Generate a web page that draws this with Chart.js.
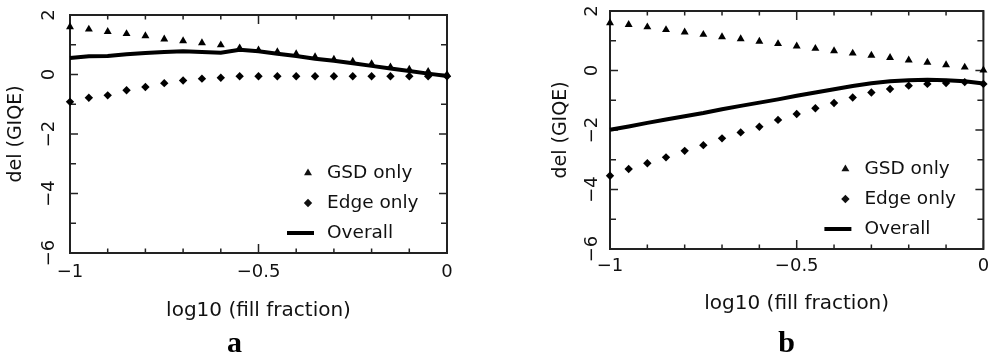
<!DOCTYPE html>
<html>
<head>
<meta charset="utf-8">
<script src="https://cdn.jsdelivr.net/npm/chart.js@4"></script>
<style>
  html, body { margin: 0; padding: 0; background: #fff; }
  #wrap { position: relative; width: 988px; height: 356px; overflow: hidden; }
  .panel { position: absolute; top: 0; width: 494px; height: 356px; }
</style>
</head>
<body>
<div id="wrap">
  <div class="panel" style="left:0"><canvas id="chartA" width="494" height="356"></canvas></div>
  <div class="panel" style="left:494px"><canvas id="chartB" width="494" height="356"></canvas></div>
</div>
<script>
// x positions: log10 (fill fraction)
const fillLog = [-1, -0.95, -0.9, -0.85, -0.8, -0.75, -0.7, -0.65, -0.6, -0.55, -0.5,
                 -0.45, -0.4, -0.35, -0.3, -0.25, -0.2, -0.15, -0.1, -0.05, 0];

// panel a
const gsdA     = [1.6, 1.52, 1.44, 1.37, 1.3, 1.19, 1.13, 1.06, 0.99, 0.89, 0.82,
                  0.76, 0.69, 0.59, 0.51, 0.44, 0.36, 0.25, 0.17, 0.1, 0];
const edgeA    = [-0.92, -0.78, -0.7, -0.53, -0.42, -0.29, -0.2, -0.14, -0.11, -0.06, -0.06,
                  -0.06, -0.06, -0.06, -0.06, -0.06, -0.06, -0.06, -0.06, -0.06, -0.06];
const overallA = [0.555, 0.61, 0.62, 0.68, 0.72, 0.76, 0.78, 0.76, 0.73, 0.83, 0.78,
                  0.7, 0.62, 0.53, 0.46, 0.38, 0.29, 0.2, 0.12, 0.03, -0.05];

// panel b
const gsdB     = [1.6, 1.54, 1.46, 1.37, 1.29, 1.21, 1.13, 1.06, 0.98, 0.9, 0.82,
                  0.74, 0.66, 0.58, 0.51, 0.43, 0.35, 0.27, 0.19, 0.11, 0.01];
const edgeB    = [-3.54, -3.31, -3.12, -2.92, -2.7, -2.51, -2.28, -2.08, -1.89, -1.66, -1.46,
                  -1.27, -1.09, -0.91, -0.74, -0.62, -0.51, -0.45, -0.42, -0.39, -0.45];
const overallB = [-1.99, -1.88, -1.76, -1.65, -1.54, -1.43, -1.3, -1.19, -1.08, -0.97, -0.85,
                  -0.74, -0.63, -0.52, -0.43, -0.36, -0.33, -0.31, -0.33, -0.36, -0.44];

// axes
const xMajor = [-1, -0.5, 0];
const xMajorLabels = ['\u22121', '\u22120.5', '0'];
const xTickMarks = [-1, -0.9, -0.8, -0.7, -0.6, -0.5, -0.4, -0.3, -0.2, -0.1, 0];
const yMajor = [-6, -4, -2, 0, 2];
const yMajorLabels = ['\u22126', '\u22124', '\u22122', '0', '2'];
const yTickMarks = [-6, -5, -4, -3, -2, -1, 0, 1, 2];
const seriesNames = ['GSD only', 'Edge only', 'Overall'];

const FONT = 'DejaVu Sans';
const INK = '#111';

function pts(ys) {
  return fillLog.map((x, i) => ({ x: x, y: ys[i] }));
}

// frame, inward ticks, rotated y labels, legend, panel letter
const framePlugin = {
  id: 'frame',
  beforeDatasetsDraw(chart) {
    const { ctx, chartArea: a, scales: { x, y } } = chart;
    ctx.save();
    ctx.strokeStyle = '#222';
    ctx.lineWidth = 2;
    ctx.strokeRect(a.left, a.top, a.right - a.left, a.bottom - a.top);
    ctx.lineWidth = 1.5;
    ctx.beginPath();
    xTickMarks.forEach(v => {
      const px = x.getPixelForValue(v);
      const len = xMajor.some(m => Math.abs(m - v) < 1e-9) ? 9 : 4.5;
      ctx.moveTo(px, a.bottom); ctx.lineTo(px, a.bottom - len);
      ctx.moveTo(px, a.top); ctx.lineTo(px, a.top + len);
    });
    yTickMarks.forEach(v => {
      const py = y.getPixelForValue(v);
      const len = yMajor.includes(v) ? 8 : 6;
      ctx.moveTo(a.left, py); ctx.lineTo(a.left + len, py);
      ctx.moveTo(a.right, py); ctx.lineTo(a.right - len, py);
    });
    ctx.stroke();
    ctx.restore();
  },
  afterDraw(chart, args, opts) {
    const { ctx, chartArea: a, scales: { y } } = chart;
    ctx.save();
    ctx.fillStyle = INK;
    // y tick labels, rotated
    ctx.font = '18px "' + FONT + '"';
    ctx.textAlign = 'center';
    ctx.textBaseline = 'middle';
    yMajor.forEach((v, i) => {
      ctx.save();
      ctx.translate(a.left - opts.yLabelGap, y.getPixelForValue(v));
      ctx.rotate(-Math.PI / 2);
      ctx.fillText(yMajorLabels[i], 0, 0);
      ctx.restore();
    });
    // legend
    const mx = a.right - opts.legendRight;
    const rows = [a.bottom - 80, a.bottom - 50, a.bottom - 20];
    ctx.font = '18.5px "' + FONT + '"';
    ctx.textAlign = 'left';
    rows.forEach((ry, i) => {
      if (i === 0) {
        const r = 4.6;
        ctx.beginPath();
        ctx.moveTo(mx, ry - r);
        ctx.lineTo(mx + r * Math.sin(2 * Math.PI / 3), ry + r / 2);
        ctx.lineTo(mx - r * Math.sin(2 * Math.PI / 3), ry + r / 2);
        ctx.closePath();
        ctx.fill();
      } else if (i === 1) {
        const r = 4.2;
        ctx.beginPath();
        ctx.moveTo(mx, ry - r); ctx.lineTo(mx + r, ry);
        ctx.lineTo(mx, ry + r); ctx.lineTo(mx - r, ry);
        ctx.closePath();
        ctx.fill();
      } else {
        ctx.strokeStyle = '#000';
        ctx.lineWidth = 4;
        ctx.beginPath();
        ctx.moveTo(mx - 21, ry); ctx.lineTo(mx + 6, ry);
        ctx.stroke();
      }
      ctx.fillText(seriesNames[i], mx + 19, ry);
    });
    // panel letter
    ctx.font = 'bold 30px "Liberation Serif"';
    ctx.textAlign = 'center';
    ctx.textBaseline = 'alphabetic';
    ctx.fillStyle = '#000';
    ctx.fillText(opts.letter, opts.letterX, 352);
    ctx.restore();
  }
};

function makePanel(p, gsd, edge, overall) {
  return new Chart(document.getElementById(p.id), {
    type: 'scatter',
    data: {
      datasets: [
        { label: seriesNames[0], data: pts(gsd), pointStyle: 'triangle', pointRadius: 4.6,
          backgroundColor: '#000', borderColor: '#000', borderWidth: 0, showLine: false, clip: false },
        { label: seriesNames[1], data: pts(edge), pointStyle: 'rectRot', pointRadius: 4.2,
          backgroundColor: '#000', borderColor: '#000', borderWidth: 0, showLine: false, clip: false },
        { label: seriesNames[2], data: pts(overall), showLine: true, pointRadius: 0,
          borderColor: '#000', borderWidth: 4, tension: 0, clip: false }
      ]
    },
    options: {
      responsive: false,
      animation: false,
      events: [],
      layout: { padding: { left: p.padLeft, right: p.padRight, top: p.top, bottom: p.padBottom } },
      plugins: {
        legend: { display: false },
        tooltip: { enabled: false },
        frame: { yLabelGap: p.yLabelGap, legendRight: p.legendRight, letter: p.letter, letterX: p.letterX }
      },
      scales: {
        x: {
          type: 'linear', min: -1, max: 0,
          afterBuildTicks: s => { s.ticks = xMajor.map(v => ({ value: v })); },
          afterFit: s => { s.height = p.xHeight; s.paddingLeft = 0; s.paddingRight = 0; },
          grid: { display: false, drawTicks: false },
          border: { display: false },
          ticks: {
            autoSkip: false, maxRotation: 0, padding: p.xTickPad, color: INK,
            font: { family: FONT, size: 18 },
            callback: (v, i) => xMajorLabels[i]
          },
          title: { display: true, text: 'log10 (fill fraction)', color: INK,
                   font: { family: FONT, size: 20 }, padding: 0 }
        },
        y: {
          type: 'linear', min: -6, max: 2,
          afterBuildTicks: s => { s.ticks = yMajor.map(v => ({ value: v })); },
          afterFit: s => { s.width = p.yWidth; },
          grid: { display: false, drawTicks: false },
          border: { display: false },
          ticks: { display: false },
          title: { display: true, text: 'del (GIQE)', color: INK,
                   font: { family: FONT, size: 19 }, padding: { top: p.yTitlePad, bottom: 0 } }
        }
      }
    },
    plugins: [framePlugin]
  });
}

makePanel({ id: 'chartA', top: 15, padLeft: 0, padRight: 47, padBottom: 33.5, yWidth: 70,
            xHeight: 69.5, xTickPad: 9, yTitlePad: 5, yLabelGap: 21, legendRight: 139,
            letter: 'a', letterX: 234.5 },
          gsdA, edgeA, overallA);
makePanel({ id: 'chartB', top: 11, padLeft: 54, padRight: 2, padBottom: 40, yWidth: 62,
            xHeight: 67, xTickPad: 7, yTitlePad: 1.6, yLabelGap: 18, legendRight: 138,
            letter: 'b', letterX: 292.5 },
          gsdB, edgeB, overallB);
</script>
</body>
</html>
